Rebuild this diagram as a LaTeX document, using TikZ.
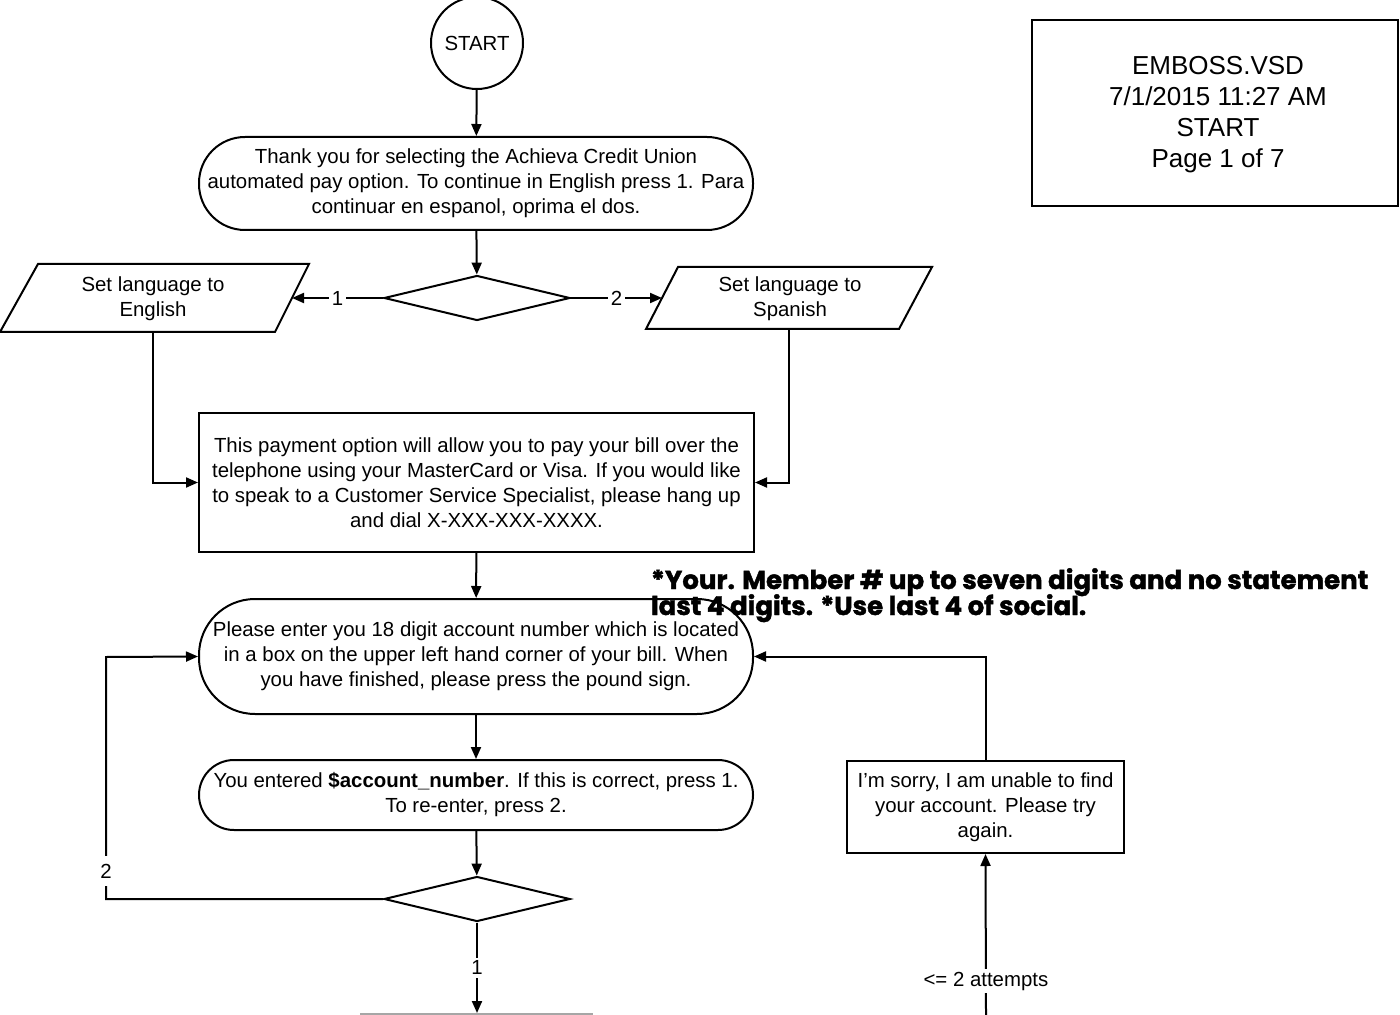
\documentclass[tikz,border=0pt]{standalone}
\usepackage{fontspec}
\setmainfont{Liberation Sans}
\newfontfamily\annfont{Poppins}[BoldFeatures={FakeBold=1.5}]
\usetikzlibrary{arrows.meta,shapes.geometric}
\begin{document}
\begin{tikzpicture}[x=0.5pt,y=-0.5pt,line width=1pt,
  >={Triangle[length=6pt,width=5pt]},
  txt/.style={font=\fontsize{10.2}{12.5}\selectfont,align=center,inner sep=0pt},
  box/.style={draw,txt},
  lbl/.style={fill=white,font=\fontsize{10.2}{12}\selectfont,inner sep=1.5pt},
  note/.style={anchor=base west,inner sep=0pt,font=\annfont\bfseries\fontsize{13}{13}\selectfont},
  dia/.style={draw,diamond,inner sep=0pt,minimum width=93pt,minimum height=22.5pt}]
\useasboundingbox (0,0) rectangle (1400,1015);

% START
\node[draw,circle,minimum size=46pt,txt] (start) at (477,43) {START};

% terminal 1
\node[box,rounded corners=23pt,minimum width=277pt,minimum height=46.5pt] (t1) at (476,183.5)
 {Thank you for selecting the Achieva Credit Union\\automated pay option. To continue in English press 1. Para\\continuar en espanol, oprima el dos.};

% decision 1
\node[dia] (d1) at (477,298) {};

% parallelogram English
\draw (38,264) -- (309,264) -- (275,332) -- (0,332) -- cycle;
\node[txt] (en) at (153,299) {Set language to\\English};
\coordinate (enr) at (292,298);
\coordinate (enb) at (153,332);

% parallelogram Spanish
\draw (678,267) -- (932,267) -- (899,329) -- (646,329) -- cycle;
\node[txt] (es) at (790,299) {Set language to\\Spanish};
\coordinate (esl) at (662,298);
\coordinate (esb) at (789,329);

% box 2
\node[box,minimum width=277.5pt,minimum height=69.5pt] (b2) at (476.5,482.5)
 {This payment option will allow you to pay your bill over the\\telephone using your MasterCard or Visa. If you would like\\to speak to a Customer Service Specialist, please hang up\\and dial X-XXX-XXX-XXXX.};

% terminal 3
\node[box,rounded corners=28pt,minimum width=277pt,minimum height=57.5pt] (t3) at (476,656.5)
 {Please enter you 18 digit account number which is located\\in a box on the upper left hand corner of your bill. When\\you have finished, please press the pound sign.};

% terminal 4
\node[box,rounded corners=17.5pt,minimum width=277pt,minimum height=35pt] (t4) at (476,795)
 {You entered \textbf{\$account\_number}. If this is correct, press 1.\\To re-enter, press 2.};

% decision 2
\node[dia] (d2) at (477,899) {};

% sorry box
\node[box,minimum width=138.5pt,minimum height=46pt] (sorry) at (985.5,807)
 {I'm sorry, I am unable to find\\your account. Please try\\again.};

% title box
\node[draw,minimum width=183pt,minimum height=93pt] (title) at (1215,113) {};
\node[font=\fontsize{13}{15.5}\selectfont,align=center,inner sep=0pt] (titletxt) at (1218,115)
 {EMBOSS.VSD\\7/1/2015 11:27 AM\\START\\Page 1 of 7};

% annotation (two lines)
\node[note] (note1) at (650,589) {*Your. Member \# up to seven digits and no statement};
\node[note] (note2) at (650,615) {last 4 digits. *Use last 4 of social.};

% partial box at bottom
\draw[black!35] (360,1014) -- (593,1014);

% coordinates
\coordinate (lc) at (106,657);
\coordinate (bot) at (477,1013);
\coordinate (bot2) at (986,1015);

% connectors
\draw[->] (start) -- (t1);
\draw[->] (t1) -- (d1);
\draw[->] (d1.west) -- node[lbl] {1} (enr);
\draw[->] (d1.east) -- node[lbl] {2} (esl);
\draw[->] (enb) |- (b2.west);
\draw[->] (esb) |- (b2.east);
\draw[->] (b2) -- (t3);
\draw[->] (t3) -- (t4);
\draw[->] (t4) -- (d2);
\draw[->] (d2.west) -- (d2.west -| lc) -- node[lbl,pos=0.116,inner ysep=4pt] {2} (lc) -- (t3.west);
\draw[->] (d2) -- node[lbl] {1} (bot);
\draw[->] (sorry.north) |- (t3.east);
\draw[->] (bot2) -- node[lbl,pos=0.21] {<= 2 attempts} (sorry.south);
\end{tikzpicture}
\end{document}
